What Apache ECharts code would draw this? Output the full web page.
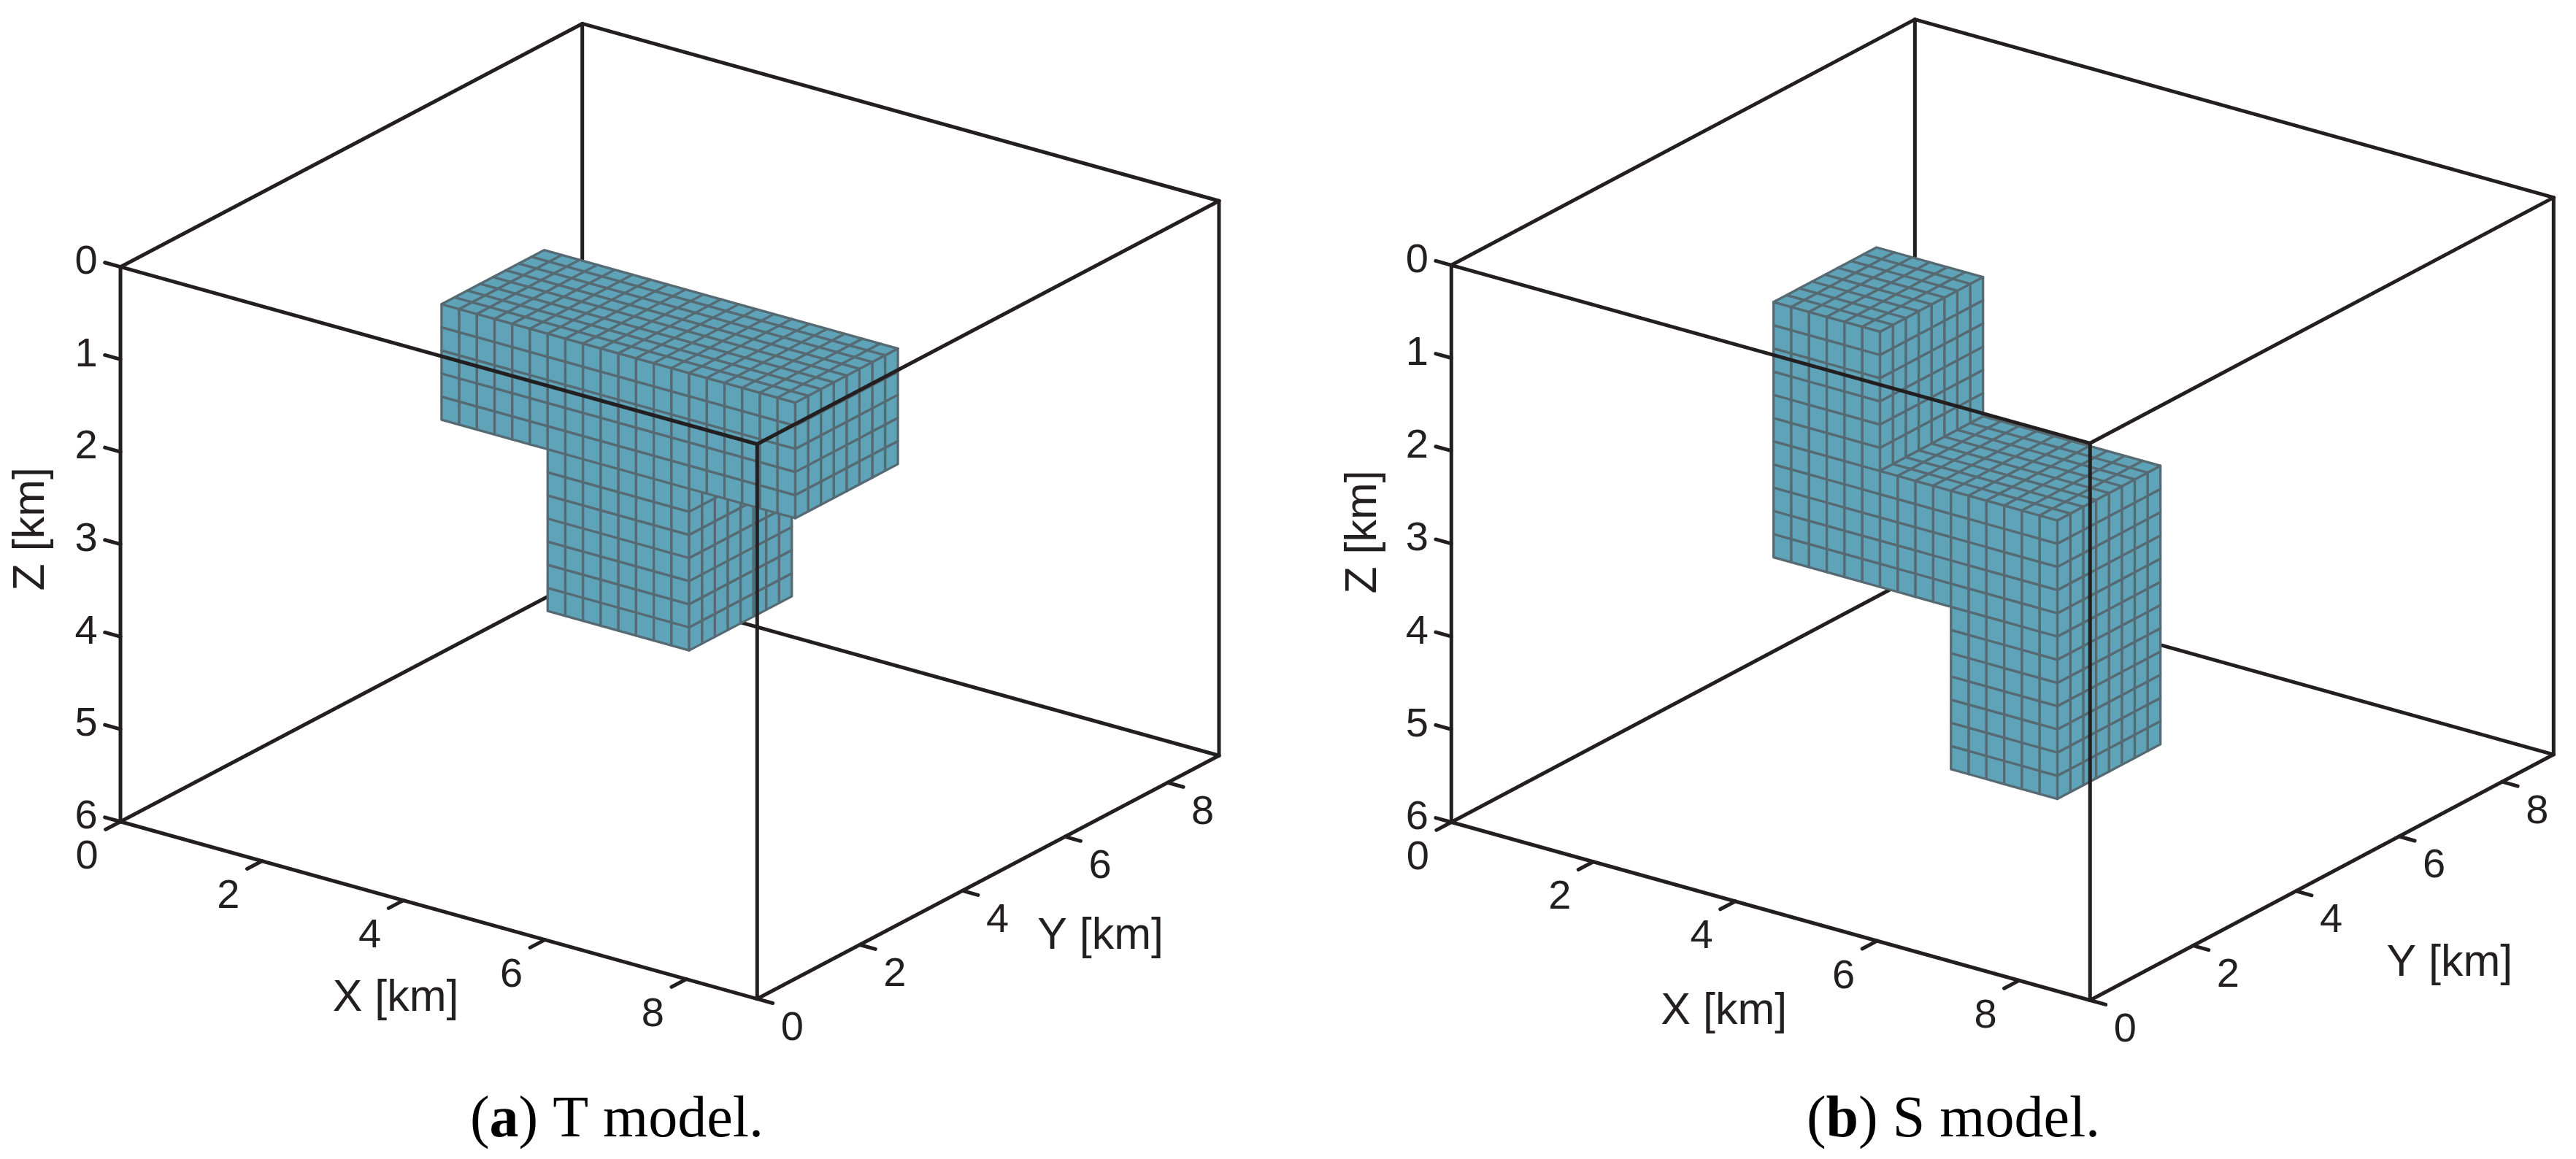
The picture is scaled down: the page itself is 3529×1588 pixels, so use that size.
<!DOCTYPE html>
<html lang="en">
<head>
<meta charset="UTF-8">
<title>T and S models</title>
<script src="https://cdn.jsdelivr.net/npm/echarts@6/dist/echarts.min.js"></script>
<style>
    html, body { margin: 0; padding: 0; background: #fff; }
    #main { width: 3529px; height: 1588px; }
</style>
</head>
<body>
<div id="main"></div>
<script>
// box extents and tick labels, km
const xRange = [0, 9];
const yRange = [0, 9];
const zRange = [0, 6];
const xTicks = [0, 2, 4, 6, 8];
const yTicks = [0, 2, 4, 6, 8];
const zTicks = [0, 1, 2, 3, 4, 5, 6];

// anomaly bodies: [x0, x1, y0, y1, z0, z1], km, meshed in 0.25 km cells
const cellSize = 0.25;
const tBlocks = [
    [2, 7, 3.5, 5.5, 1, 2.25],
    [3.5, 5.5, 3.5, 5.5, 2.25, 4]
];
const sBlocks = [
    [2, 3.5, 3.5, 5.5, 1, 3.75],
    [3.5, 4.5, 3.5, 5.5, 2.5, 3.75],
    [4.5, 6, 3.5, 5.5, 2.5, 5.5]
];

const LINE = '#231f20';
const CELL_FILL = '#5fa3b8';
const CELL_EDGE = '#566a73';
const SANS = '"Liberation Sans", sans-serif';

// each panel is an oblique view: plane axes are in page px, origin at x=y=z=0
const panels = [
    {
        blocks: tBlocks, left: 0, width: 1764, origin: [165, 365.7],
        xv: [96.92, 26.98], yv: [70.3, -37.03], zv: 126.67,
        xName: [-59, 121], yName: [154, 81], zName: [-122, -21],
        caption: '{r|(}{b|a}{r|) T model.}', captionX: 840
    },
    {
        blocks: sBlocks, left: 1764, width: 1765, origin: [224.3, 363.3],
        xv: [97.22, 27.11], yv: [70.56, -37.41], zv: 127.2,
        xName: [-64, 138], yName: [175, 118], zName: [-120, -16],
        caption: '{r|(}{b|b}{r|) S model.}', captionX: 2671
    }
];

function project(p, x, y, z) {
    return [x * p.xv[0] + y * p.yv[0], x * p.xv[1] + y * p.yv[1] + z * p.zv];
}

// keep only faces seen from the viewer, listed back to front
function buildFaces(blocks) {
    const filled = {};
    const key = (i, j, k) => i + '_' + j + '_' + k;
    const idx = v => Math.round(v / cellSize);
    blocks.forEach(b => {
        for (let i = idx(b[0]); i < idx(b[1]); i++)
            for (let j = idx(b[2]); j < idx(b[3]); j++)
                for (let k = idx(b[4]); k < idx(b[5]); k++) filled[key(i, j, k)] = 1;
    });
    const faces = [];
    for (let j = idx(yRange[1]); j >= 0; j--) {
        for (let i = 0; i <= idx(xRange[1]); i++) {
            for (let k = idx(zRange[1]); k >= 0; k--) {
                if (!filled[key(i, j, k)]) continue;
                if (!filled[key(i, j - 1, k)]) faces.push([i, j, k, 0]); // front
                if (!filled[key(i + 1, j, k)]) faces.push([i, j, k, 1]); // right
                if (!filled[key(i, j, k - 1)]) faces.push([i, j, k, 2]); // top
            }
        }
    }
    return faces;
}

function faceCorners(i, j, k, f) {
    const x0 = i * cellSize, x1 = x0 + cellSize;
    const y0 = j * cellSize, y1 = y0 + cellSize;
    const z0 = k * cellSize, z1 = z0 + cellSize;
    if (f === 0) return [[x0, y0, z0], [x1, y0, z0], [x1, y0, z1], [x0, y0, z1]];
    if (f === 1) return [[x1, y0, z0], [x1, y1, z0], [x1, y1, z1], [x1, y0, z1]];
    return [[x0, y0, z0], [x1, y0, z0], [x1, y1, z0], [x0, y1, z0]];
}

function frameEdges(p) {
    const X = xRange[1], Y = yRange[1], Z = zRange[1];
    const back = [
        [0, Y, 0, 0, Y, Z], [0, 0, Z, 0, Y, Z], [X, Y, Z, 0, Y, Z],
        [0, 0, 0, 0, Y, 0], [0, Y, 0, X, Y, 0]
    ];
    const front = [
        [0, 0, 0, X, 0, 0], [X, 0, 0, X, Y, 0], [0, 0, 0, 0, 0, Z],
        [X, 0, 0, X, 0, Z], [X, Y, 0, X, Y, Z], [0, 0, Z, X, 0, Z], [X, 0, Z, X, Y, Z]
    ];
    xTicks.forEach(t => front.push([t, 0, Z, t, -0.29, Z]));
    yTicks.forEach(t => front.push([X, t, Z, X + 0.22, t, Z]));
    zTicks.forEach(t => front.push([0, 0, t, -0.22, 0, t]));
    return { back, front };
}

function panelLabels(p) {
    const X = xRange[1], Y = yRange[1], Z = zRange[1];
    const out = [];
    xTicks.forEach(t => out.push({ at: [t, 0, Z], off: [-46, 49], text: String(t), size: 56 }));
    yTicks.forEach(t => out.push({ at: [X, t, Z], off: [48, 41], text: String(t), size: 56 }));
    zTicks.forEach(t => out.push({ at: [0, 0, t], off: [-47, -6], text: String(t), size: 56 }));
    out.push({ at: [X / 2, 0, Z], off: p.xName, text: 'X [km]', size: 61 });
    out.push({ at: [X, Y / 2, Z], off: p.yName, text: 'Y [km]', size: 61 });
    out.push({ at: [0, 0, Z / 2], off: p.zName, text: 'Z [km]', size: 61, rot: Math.PI / 2 });
    return out;
}

function edgeSeries(p, n, name, edges) {
    return {
        type: 'custom', name: name, coordinateSystem: 'cartesian2d',
        xAxisIndex: n, yAxisIndex: n, silent: true, animation: false, progressive: 0, clip: false,
        data: edges,
        renderItem: function (params, api) {
            const a = api.coord(project(p, api.value(0), api.value(1), api.value(2)));
            const b = api.coord(project(p, api.value(3), api.value(4), api.value(5)));
            return {
                type: 'line',
                shape: { x1: a[0], y1: a[1], x2: b[0], y2: b[1] },
                style: { stroke: LINE, lineWidth: 5, lineCap: 'round', fill: null }
            };
        }
    };
}

const grid = [], xAxis = [], yAxis = [], series = [], title = [];

panels.forEach(function (p, n) {
    grid.push({ left: p.left, top: 0, width: p.width, height: 1588 });
    xAxis.push({ type: 'value', gridIndex: n, show: false, min: -p.origin[0], max: p.width - p.origin[0] });
    yAxis.push({ type: 'value', gridIndex: n, show: false, inverse: true, min: -p.origin[1], max: 1588 - p.origin[1] });

    const edges = frameEdges(p);
    const labels = panelLabels(p);

    series.push(edgeSeries(p, n, 'frame back', edges.back));
    series.push({
        type: 'custom', name: 'cells', coordinateSystem: 'cartesian2d',
        xAxisIndex: n, yAxisIndex: n, silent: true, animation: false, progressive: 0, clip: false,
        data: buildFaces(p.blocks),
        renderItem: function (params, api) {
            const c = faceCorners(api.value(0), api.value(1), api.value(2), api.value(3));
            return {
                type: 'polygon',
                shape: { points: c.map(q => api.coord(project(p, q[0], q[1], q[2]))) },
                style: { fill: CELL_FILL, stroke: CELL_EDGE, lineWidth: 3.3, lineJoin: 'round' }
            };
        }
    });
    series.push(edgeSeries(p, n, 'frame front', edges.front));
    series.push({
        type: 'custom', name: 'labels', coordinateSystem: 'cartesian2d',
        xAxisIndex: n, yAxisIndex: n, silent: true, animation: false, progressive: 0, clip: false,
        data: labels.map(l => [l.at[0], l.at[1], l.at[2]]),
        renderItem: function (params, api) {
            const l = labels[params.dataIndex];
            const a = api.coord(project(p, l.at[0], l.at[1], l.at[2]));
            return {
                type: 'text',
                x: a[0] + l.off[0], y: a[1] + l.off[1], rotation: l.rot || 0,
                style: {
                    text: l.text, fill: LINE, font: l.size + 'px ' + SANS,
                    align: 'center', verticalAlign: 'middle'
                }
            };
        }
    });

    title.push({
        text: p.caption, left: p.captionX, top: 1491, textAlign: 'center',
        textStyle: {
            fontWeight: 'normal',
            rich: {
                r: { fontFamily: 'Liberation Serif', fontSize: 80, fontWeight: 'normal', color: '#000' },
                b: { fontFamily: 'Liberation Serif', fontSize: 80, fontWeight: 'bold', color: '#000' }
            }
        }
    });
});

const myChart = echarts.init(document.getElementById('main'), null, { width: 3529, height: 1588 });
myChart.setOption({
    backgroundColor: '#ffffff',
    animation: false,
    title: title,
    grid: grid,
    xAxis: xAxis,
    yAxis: yAxis,
    series: series
});
</script>
</body>
</html>
